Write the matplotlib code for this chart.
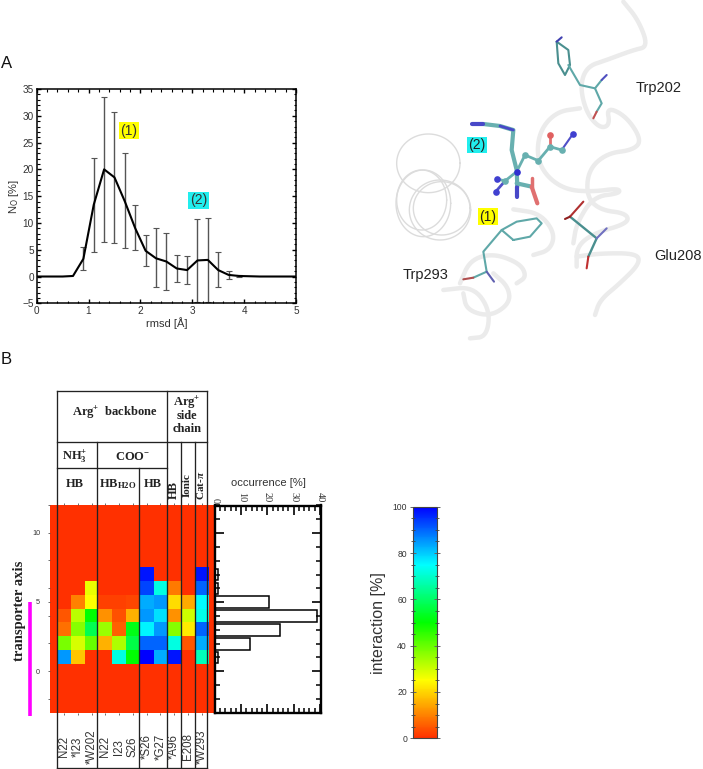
import numpy as np
import matplotlib
matplotlib.use('Agg')
import matplotlib.pyplot as plt
from matplotlib.colors import LinearSegmentedColormap, Normalize
from matplotlib.cm import ScalarMappable
from matplotlib.ticker import MultipleLocator

plt.rcParams['font.family'] = ['Liberation Sans', 'DejaVu Sans']
plt.rcParams['mathtext.fontset'] = 'custom'
plt.rcParams['mathtext.rm'] = 'Liberation Serif:bold'
plt.rcParams['mathtext.it'] = 'Liberation Serif:italic:bold'
plt.rcParams['mathtext.bf'] = 'Liberation Serif:bold'

# ---- panel A data
rmsd = [0, 0.5, 0.7, 0.9, 1.1, 1.3, 1.5, 1.7, 1.9, 2.1, 2.3, 2.5, 2.7, 2.9, 3.1, 3.3, 3.5, 3.7, 3.9, 4.1, 4.3, 5]
occ_no = [0, 0, 0.1, 3.3, 13.4, 20, 18.5, 14, 9, 4.8, 3.4, 2.8, 1.5, 1.2, 3, 3.1, 1.2, 0.3, 0.1, 0.05, 0, 0]
err_x = [0.9, 1.1, 1.3, 1.5, 1.7, 1.9, 2.1, 2.3, 2.5, 2.7, 2.9, 3.1, 3.3, 3.5, 3.7, 3.9]
err_mid = [3.3, 13.4, 20, 18.5, 14, 9, 4.8, 3.4, 2.8, 1.5, 1.2, 3, 3.1, 1.2, 0.3, 0.1]
err_lo = [1.2, 4.5, 6.5, 6.2, 5.4, 4.9, 1.9, -2, -2.5, -1.1, -1.4, -4.7, -4.8, -1.9, -0.4, 0]
err_hi = [5.6, 22.2, 33.5, 30.8, 23.1, 13.3, 7.8, 9, 8.1, 4.1, 3.9, 10.7, 11, 4.5, 1, 0.2]

# ---- panel B data
residues = ['N22', '*I23', '*W202', 'N22', 'I23', 'S26', '*S26', '*G27', '*A96', 'E208', '*W293']
row_7 = [0, 0, 0, 0, 0, 0, 98, 0, 0, 0, 98]
row_6 = [0, 0, 27, 0, 0, 0, 93, 72, 9, 0, 90]
row_5 = [0, 10, 25, 2, 2, 3, 83, 85, 21, 15, 75]
row_4 = [5, 32, 50, 12, 4, 16, 85, 78, 12, 30, 73]
row_3 = [8, 37, 58, 35, 6, 52, 76, 85, 37, 23, 90]
row_2 = [38, 29, 40, 16, 33, 57, 90, 90, 72, 5, 83]
row_1 = [85, 18, 0, 0, 72, 50, 100, 83, 98, 0, 68]
occ_axis = [1, 2, 3, 4, 5, 6, 7]
occurrence = [1, 13.3, 24.6, 39, 20.7, 1, 1]

W, H = 703, 769
fig = plt.figure(figsize=(W / 100, H / 100), dpi=100)


def px_axes(x0, y0, x1, y1):
    return fig.add_axes([x0 / W, 1 - y1 / H, (x1 - x0) / W, (y1 - y0) / H])


grey = '#333333'
# ---- Panel A
ax = px_axes(36.7, 89, 296, 303.3)
ax.errorbar(err_x, err_mid, yerr=[np.array(err_mid) - np.array(err_lo), np.array(err_hi) - np.array(err_mid)],
            fmt='none', ecolor='#555555', elinewidth=1.0, capsize=2.3, capthick=0.8, clip_on=True)
ax.plot(rmsd, occ_no, color='black', lw=1.5)
ax.set_xlim(0, 5)
ax.set_ylim(-5, 35)
ax.xaxis.set_major_locator(MultipleLocator(1))
ax.xaxis.set_minor_locator(MultipleLocator(0.2))
ax.yaxis.set_major_locator(MultipleLocator(5))
ax.yaxis.set_minor_locator(MultipleLocator(1))
ax.tick_params(which='major', direction='in', top=True, right=True, length=3.2, width=1, labelsize=7.2,
               labelcolor=grey, pad=2)
ax.tick_params(which='minor', direction='in', top=True, right=True, length=1.8, width=0.8)
for s in ax.spines.values():
    s.set_linewidth(1.1)
ax.set_xlabel('rmsd [Å]', fontsize=8, color=grey, labelpad=1)
ax.set_ylabel('N$_{\\mathsf{O}}$ [%]', fontsize=8, color=grey, labelpad=1)
ax.yaxis.label.set_math_fontfamily('dejavusans')
ax.text(1.78, 27.2, '(1)', fontsize=10, ha='center', va='center', color=grey,
        bbox=dict(fc='#ffff00', ec='none', pad=1))
ax.text(3.12, 14.2, '(2)', fontsize=10, ha='center', va='center', color=grey,
        bbox=dict(fc='#22eeee', ec='none', pad=1))

# ---- Panel B heat map
colors = ['#ff3000', '#ffff00', '#00ff00', '#00ffff', '#0000ff']
cmap = LinearSegmentedColormap.from_list('interaction', colors)
norm = Normalize(0, 100)
grid = np.array([row_1, row_2, row_3, row_4, row_5, row_6, row_7], float)
hm = px_axes(49.5, 505, 214, 712.7)
hm.set_facecolor(cmap(0.0))
hm.imshow(grid, cmap=cmap, norm=norm, origin='lower', aspect='auto', interpolation='nearest',
          extent=(-0.5, 10.5, 0.5, 7.5))
hm.set_xlim(-1.07, 10.9)
hm.set_ylim(-3, 12)
hm.set_xticks(range(len(residues)))
hm.set_xticklabels([])
hm.yaxis.set_major_locator(MultipleLocator(5))
hm.yaxis.set_minor_locator(MultipleLocator(2))
hm.tick_params(axis='x', top=True, bottom=True, length=1.6, width=0.6, color='#555555')
hm.tick_params(axis='y', which='major', length=1.8, width=0.6, labelsize=5.2, labelcolor=grey, pad=5, color='#555555')
hm.tick_params(axis='y', which='minor', length=1.6, width=0.6, color='#555555')
for s in hm.spines.values():
    s.set_visible(False)

# ---- Occurrence histogram
hs = px_axes(215, 505.5, 320.5, 712.7)
hs.barh(occ_axis, occurrence, height=0.85, color='white', edgecolor='black', lw=1.1)
hs.set_xlim(0, 40.2)
hs.set_ylim(-3, 12)
hs.xaxis.set_major_locator(MultipleLocator(10))
hs.xaxis.set_minor_locator(MultipleLocator(2))
hs.yaxis.set_major_locator(MultipleLocator(5))
hs.yaxis.set_minor_locator(MultipleLocator(1))
hs.tick_params(which='major', direction='in', top=True, bottom=True, left=True, right=True, length=6.5, width=1.2,
               labelbottom=False, labeltop=True, labelleft=False)
hs.tick_params(which='minor', direction='in', top=True, bottom=True, left=True, right=True, length=3.5, width=1.1)
hs.tick_params(axis='x', which='major', labelrotation=-90, labelsize=7.5, labelcolor=grey, pad=2)
for lab in hs.get_xticklabels():
    lab.set_family('Liberation Serif')
for s in hs.spines.values():
    s.set_linewidth(1.7)
fig.text(268 / W, 1 - 483 / H, 'occurrence [%]', fontsize=8, color=grey, ha='center', va='center')

# ---- Colour bar
cb_ax = px_axes(413.3, 506.7, 437, 738.3)
cb = fig.colorbar(ScalarMappable(norm=norm, cmap=cmap), cax=cb_ax)
cb.set_ticks(range(0, 101, 20))
cb.ax.yaxis.set_ticks_position('left')
cb.ax.yaxis.set_minor_locator(MultipleLocator(5))
cb.ax.tick_params(which='major', direction='inout', left=True, right=True, length=5, width=0.7,
                  labelsize=6.2, labelcolor=grey, color='#666666', pad=2)
cb.ax.tick_params(which='minor', direction='inout', left=True, right=True, length=2.5, width=0.6, color='#444444')
cb.outline.set_linewidth(0.8)
cb.outline.set_edgecolor('#444444')
fig.text(378 / W, 1 - 623 / H, 'interaction [%]', fontsize=11.5, color=grey, rotation=90, ha='center', va='center')

# ---- Overlay in pixel coordinates: table frame, labels and the molecular illustration
ov = fig.add_axes([0, 0, 1, 1], zorder=10)
ov.set_xlim(0, W)
ov.set_ylim(H, 0)
ov.axis('off')
ov.patch.set_alpha(0)

table_lines = [
    ((57.3, 207.3), (391, 391)), ((57.3, 207.3), (442.3, 442.3)), ((57.3, 166.7), (468, 468)),
    ((57.3, 207.3), (767.7, 767.7)), ((57.3, 57.3), (391, 767.7)), ((96.7, 96.7), (442.3, 767.7)),
    ((138.7, 138.7), (468, 767.7)), ((166.7, 166.7), (391, 767.7)), ((181, 181), (442.3, 767.7)),
    ((195, 195), (442.3, 767.7)), ((207.3, 207.3), (391, 767.7)),
]
for xs, ys in table_lines:
    ov.plot(xs, ys, color='#222222', lw=0.95, solid_capstyle='projecting')

serif = dict(family='Liberation Serif', weight='bold', color='#222222', ha='center', va='center')
ov.text(115, 413, 'Arg$^{+}$  backbone', fontsize=9, **serif)
ov.text(187, 403, 'Arg$^{+}$', fontsize=9, **serif)
ov.text(187, 416, 'side', fontsize=9, **serif)
ov.text(187, 429, 'chain', fontsize=9, **serif)
ov.text(75, 456.7, 'NH$_{3}^{+}$', fontsize=9, **serif)
ov.text(133, 456.7, 'COO$^{-}$', fontsize=9, **serif)
ov.text(75, 484, 'HB', fontsize=9, **serif)
ov.text(118, 484, 'HB$_{\\mathrm{H2O}}$', fontsize=9, **serif)
ov.text(152.5, 484, 'HB', fontsize=9, **serif)
ov.text(173.5, 490, 'HB', fontsize=9, rotation=90, **serif)
ov.text(187.5, 485, 'Ionic', fontsize=8, rotation=90, **serif)
ov.text(201, 485, 'Cat-$\\pi$', fontsize=8, rotation=90, **serif)
ov.text(20, 611, 'transporter axis', fontsize=10.5, rotation=90, **serif)

for i, name in enumerate(residues):
    ov.text(64.2 + 13.75 * i, 746.7, name, fontsize=8.3, rotation=90, color=grey, ha='center', va='center')

ov.plot([30, 30], [601.7, 715.7], color='#ff00ff', lw=2.6, solid_capstyle='butt')
ov.text(1, 63, 'A', fontsize=12, color='#111111', va='center')
ov.text(1, 359, 'B', fontsize=12, color='#111111', va='center')


def zx(p):
    a = np.array(p, float)
    return 380 + a[:, 0] / 3, a[:, 1] / 3


def smooth(p, n=3):
    a = np.array(p, float)
    for _ in range(n):
        q = a[:-1] * 0.75 + a[1:] * 0.25
        r = a[:-1] * 0.25 + a[1:] * 0.75
        mid = np.empty((2 * len(q), 2))
        mid[0::2] = q
        mid[1::2] = r
        a = np.vstack([a[0], mid, a[-1]])
    return a


ribbons = [
    [(730, 5), (775, 60), (805, 140), (760, 150), (680, 180), (620, 200), (600, 260), (620, 340), (660, 385),
     (690, 375), (680, 320), (740, 350), (785, 420), (760, 450), (680, 460), (625, 510), (620, 590), (660, 630),
     (740, 640), (745, 670), (640, 700), (590, 740), (590, 800)],
    [(590, 770), (660, 760), (770, 760), (780, 790), (720, 850), (660, 900), (645, 945)],
    [(600, 325), (530, 335), (480, 390), (470, 470), (500, 530), (560, 570), (640, 575), (715, 565), (720, 580),
     (640, 590), (590, 670), (580, 730)],
    [(190, 870), (280, 860), (330, 930), (320, 1010), (270, 1015)],
    [(240, 850), (270, 780), (340, 760), (420, 790), (440, 830), (410, 850)],
    [(250, 880), (260, 930), (330, 950), (390, 910), (385, 860), (340, 820)],
    [(400, 628), (480, 640), (525, 700), (510, 750), (460, 765)],
]
for r in ribbons:
    x, y = zx(smooth(r))
    ov.plot(x, y, color='#ebebeb', lw=3.2, solid_capstyle='round')

rings = [(145, 490, 95, 88), (130, 610, 82, 100), (180, 630, 92, 90), (185, 625, 85, 80), (125, 600, 75, 90)]
t = np.linspace(0, 2 * np.pi, 100)
for cx, cy, rx, ry in rings:
    x, y = zx(np.c_[cx + rx * np.cos(t), cy + ry * np.sin(t)])
    ov.plot(x, y, color='#dcdcdc', lw=1.0)

teal = '#5fa8a8'
dteal = '#4a8f8f'
sticks = [
    ([(530, 125), (565, 150), (570, 195), (555, 225), (535, 190), (530, 125)], dteal, 1.5),
    ([(565, 195), (600, 255), (645, 265), (665, 310), (650, 335)], teal, 1.5),
    ([(650, 335), (640, 355)], '#c05050', 1.5),
    ([(645, 265), (665, 240)], teal, 1.5),
    ([(665, 240), (680, 225)], '#5050c0', 1.5),
    ([(530, 125), (545, 112)], '#4040b0', 1.5),
    ([(400, 720), (365, 690), (410, 665), (470, 655), (485, 670), (450, 710), (400, 720)], teal, 1.5),
    ([(365, 690), (310, 755), (320, 815), (280, 833)], teal, 1.5),
    ([(280, 833), (250, 838)], '#b05050', 1.5),
    ([(320, 815), (342, 845)], '#6060b0', 1.5),
    ([(570, 650), (650, 715), (625, 770)], dteal, 1.7),
    ([(570, 650), (610, 605)], '#b03030', 1.5),
    ([(570, 650), (555, 657)], '#902020', 1.5),
    ([(625, 770), (620, 805)], '#c03030', 1.5),
    ([(650, 715), (680, 685)], '#7070c0', 1.5),
    ([(310, 372), (360, 378), (400, 390), (395, 450), (410, 510), (412, 560)], '#68b0b0', 3),
    ([(275, 372), (310, 372)], '#4848c8', 3),
    ([(360, 378), (400, 390)], '#4848c8', 2),
    ([(412, 560), (412, 592)], '#4848c8', 3),
    ([(410, 550), (455, 560)], '#68b0b0', 3),
    ([(455, 560), (472, 610)], '#e07070', 3),
    ([(455, 560), (455, 535)], '#e07070', 2.5),
    ([(410, 515), (435, 465), (475, 482), (510, 440), (545, 450)], '#68b0b0', 2),
    ([(510, 440), (510, 405)], '#e07070', 2),
    ([(545, 450), (578, 403)], '#5050c8', 1.5),
    ([(410, 515), (375, 543), (352, 537)], '#68b0b0', 2),
    ([(375, 543), (347, 575)], '#5050c8', 2),
]
for pts, c, lw in sticks:
    x, y = zx(pts)
    ov.plot(x, y, color=c, lw=lw, solid_capstyle='round', solid_joinstyle='round')

balls = [
    ((435, 465), '#68b0b0'), ((475, 482), '#68b0b0'), ((510, 440), '#68b0b0'), ((545, 450), '#68b0b0'),
    ((510, 405), '#e06060'), ((578, 403), '#4040d0'), ((410, 515), '#3030d0'), ((375, 543), '#68b0b0'),
    ((352, 537), '#4040d0'), ((347, 575), '#4040d0'),
]
for p, c in balls:
    x, y = zx([p])
    ov.plot(x, y, 'o', color=c, ms=4.8, mew=0)

ov.text(658.7, 88, 'Trp202', fontsize=10.5, color='#222222', ha='center', va='center')
ov.text(678, 256, 'Glu208', fontsize=10.5, color='#222222', ha='center', va='center')
ov.text(425.7, 275, 'Trp293', fontsize=10.5, color='#222222', ha='center', va='center')
ov.text(488, 216.7, '(1)', fontsize=10, color='#222222', ha='center', va='center',
        bbox=dict(fc='#ffff00', ec='none', pad=1))
ov.text(476.7, 145, '(2)', fontsize=10, color='#222222', ha='center', va='center',
        bbox=dict(fc='#22eeee', ec='none', pad=1))

fig.savefig('out.png', dpi=100)
